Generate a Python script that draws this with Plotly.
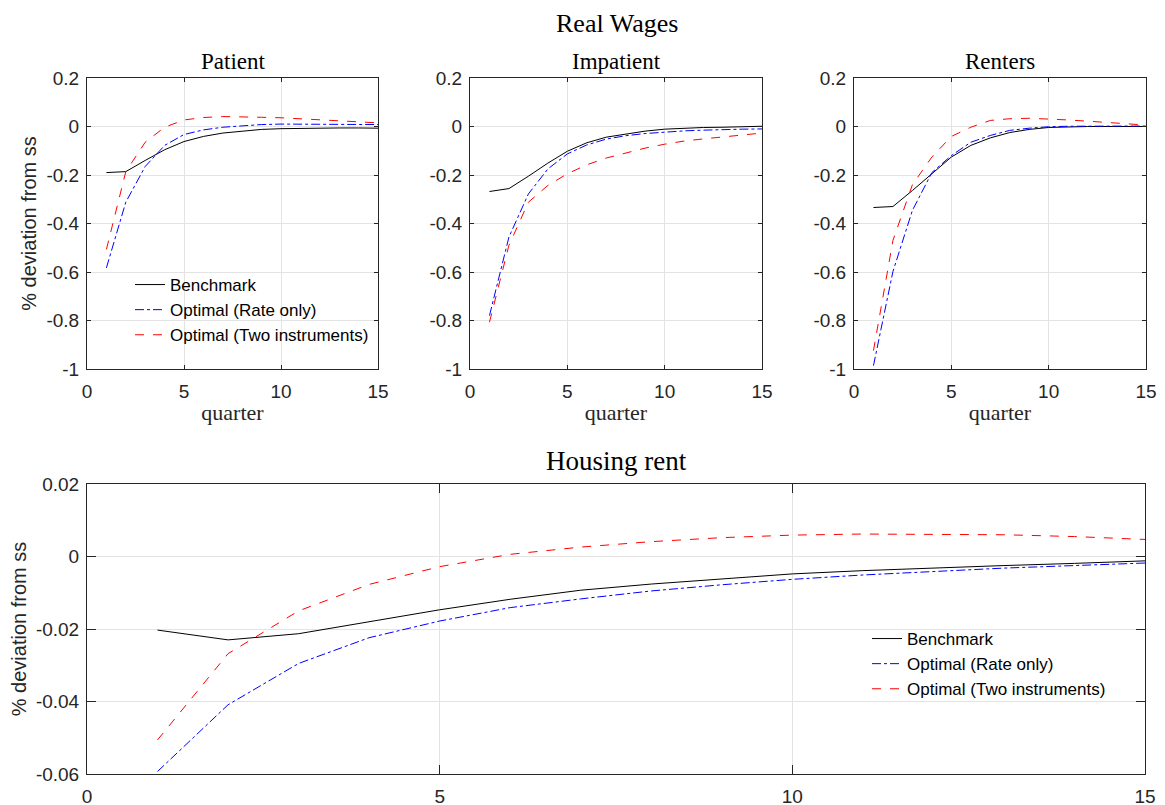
import plotly.graph_objects as go

quarters = list(range(1, 16))
series_names = ["Benchmark", "Optimal (Rate only)", "Optimal (Two instruments)"]

patient_bench = [-0.190, -0.186, -0.140, -0.096, -0.062, -0.041, -0.027, -0.018, -0.012, -0.009, -0.007, -0.006, -0.006, -0.006, -0.007]
patient_rate = [-0.583, -0.312, -0.165, -0.078, -0.033, -0.014, -0.003, 0.004, 0.008, 0.010, 0.010, 0.010, 0.010, 0.009, 0.008]
patient_two = [-0.507, -0.186, -0.065, -0.003, 0.027, 0.037, 0.041, 0.041, 0.038, 0.036, 0.032, 0.027, 0.023, 0.019, 0.015]

impatient_bench = [-0.268, -0.256, -0.205, -0.151, -0.102, -0.067, -0.044, -0.030, -0.019, -0.011, -0.007, -0.004, -0.003, -0.001, 0.001]
impatient_rate = [-0.780, -0.456, -0.278, -0.175, -0.113, -0.076, -0.052, -0.038, -0.029, -0.022, -0.018, -0.015, -0.012, -0.011, -0.010]
impatient_two = [-0.807, -0.490, -0.312, -0.243, -0.195, -0.158, -0.130, -0.109, -0.089, -0.073, -0.060, -0.051, -0.043, -0.034, -0.027]

renters_bench = [-0.334, -0.330, -0.264, -0.195, -0.126, -0.078, -0.047, -0.025, -0.012, -0.004, -0.001, 0.000, 0.000, 0.000, 0.000]
renters_rate = [-0.986, -0.598, -0.346, -0.190, -0.120, -0.065, -0.037, -0.016, -0.007, -0.001, 0.001, 0.002, 0.002, 0.002, 0.002]
renters_two = [-0.924, -0.470, -0.240, -0.126, -0.041, -0.003, 0.025, 0.032, 0.034, 0.032, 0.027, 0.022, 0.016, 0.011, 0.006]

rent_bench = [-0.0203, -0.0230, -0.0213, -0.0180, -0.0147, -0.0118, -0.0093, -0.0076, -0.0061, -0.0048, -0.0039, -0.0031, -0.0025, -0.0019, -0.0012]
rent_rate = [-0.0593, -0.0409, -0.0295, -0.0224, -0.0178, -0.0141, -0.0117, -0.0095, -0.0078, -0.0063, -0.0051, -0.0041, -0.0032, -0.0025, -0.0018]
rent_two = [-0.0506, -0.0268, -0.0150, -0.0077, -0.0028, 0.0006, 0.0026, 0.0041, 0.0052, 0.0059, 0.0062, 0.0062, 0.0060, 0.0055, 0.0047]

x_ticks = [0, 5, 10, 15]
x_tick_text = ["0", "5", "10", "15"]
top_y_ticks = [0.2, 0, -0.2, -0.4, -0.6, -0.8, -1]
top_y_text = ["0.2", "0", "-0.2", "-0.4", "-0.6", "-0.8", "-1"]
bot_y_ticks = [0.02, 0, -0.02, -0.04, -0.06]
bot_y_text = ["0.02", "0", "-0.02", "-0.04", "-0.06"]

panel_titles = ["Patient", "Impatient", "Renters"]
main_title = "Real Wages"
bottom_title = "Housing rent"
y_label = "% deviation from ss"
x_label = "quarter"

W, H = 1165, 805
OFF = 7  # page offset of the figure inside the browser window
styles = [dict(color="#000000", dash="solid"),
          dict(color="#0000ff", dash="dashdot"),
          dict(color="#ff0000", dash="dash")]

top_data = [
    (patient_bench, patient_rate, patient_two),
    (impatient_bench, impatient_rate, impatient_two),
    (renters_bench, renters_rate, renters_two),
]

fig = go.Figure()

top_x_px = [(86, 377), (469, 761), (853, 1145)]
top_y_px = (77, 368)
bot_x_px = (86, 1144)
bot_y_px = (483, 773)

def px_x(p):
    return (p - OFF) / W

def px_y(p):
    return 1 - (p - OFF) / H

def xdom(a, b):
    return [px_x(a), px_x(b)]

def ydom(top, bottom):
    return [px_y(bottom), px_y(top)]

sans = "Liberation Sans, Arial, sans-serif"
serif = "Liberation Serif, Times New Roman, serif"
ink = "#262626"

for i, data in enumerate(top_data):
    ax = "" if i == 0 else str(i + 1)
    for j, ys in enumerate(data):
        fig.add_trace(go.Scatter(
            x=quarters, y=ys, mode="lines", name=series_names[j],
            line=dict(width=1, **styles[j]),
            xaxis="x" + ax, yaxis="y" + ax,
            showlegend=(i == 0), legend="legend",
        ))

for j, ys in enumerate([rent_bench, rent_rate, rent_two]):
    fig.add_trace(go.Scatter(
        x=quarters, y=ys, mode="lines", name=series_names[j],
        line=dict(width=1, **styles[j]),
        xaxis="x4", yaxis="y4",
        showlegend=True, legend="legend2",
    ))

def axis_common(ticklen, standoff):
    return dict(
        showline=True, linecolor=ink, linewidth=1, mirror="allticks",
        ticks="inside", ticklen=ticklen, tickcolor=ink, tickwidth=1,
        showgrid=True, gridcolor="#e3e3e3", gridwidth=1, zeroline=False,
        tickfont=dict(family=sans, size=19, color=ink), automargin=False,
        ticklabelstandoff=standoff,
    )

layout = dict(
    width=W, height=H, margin=dict(l=0, r=0, t=0, b=0),
    paper_bgcolor="white", plot_bgcolor="white",
    font=dict(family=sans, color=ink),
)

for i in range(3):
    ax = "" if i == 0 else str(i + 1)
    xa = axis_common(4, 5)
    xa.update(domain=xdom(*top_x_px[i]), range=[0, 15], tickvals=x_ticks, ticktext=x_tick_text,
              anchor="y" + ax,
              title=dict(text=x_label, font=dict(family=serif, size=22, color=ink), standoff=3))
    ya = axis_common(4, 3)
    ya.update(domain=ydom(*top_y_px), range=[-1, 0.2], tickvals=top_y_ticks, ticktext=top_y_text,
              anchor="x" + ax)
    if i == 0:
        ya.update(title=dict(text=y_label, font=dict(family=sans, size=20, color=ink), standoff=4))
    layout["xaxis" + ax] = xa
    layout["yaxis" + ax] = ya

xa4 = axis_common(9, 5)
xa4.update(domain=xdom(*bot_x_px), range=[0, 15], tickvals=x_ticks, ticktext=x_tick_text, anchor="y4")
ya4 = axis_common(9, 3)
ya4.update(domain=ydom(*bot_y_px), range=[-0.06, 0.02], tickvals=bot_y_ticks, ticktext=bot_y_text,
           anchor="x4",
           title=dict(text=y_label, font=dict(family=sans, size=20, color=ink), standoff=6))
layout["xaxis4"] = xa4
layout["yaxis4"] = ya4

legend_common = dict(bgcolor="rgba(0,0,0,0)", borderwidth=0,
                     font=dict(family=sans, size=17, color="#000000"),
                     tracegroupgap=0, itemclick=False)
layout["legend"] = dict(x=px_x(129), y=px_y(309), xanchor="left", yanchor="middle", **legend_common)
layout["legend2"] = dict(x=px_x(866), y=px_y(663), xanchor="left", yanchor="middle", **legend_common)

annotations = [
    dict(text=main_title, x=px_x(0.5 * (86 + 1145)), y=1, xref="paper", yref="paper",
         showarrow=False, font=dict(family=serif, size=26, color="#000000"),
         xanchor="center", yanchor="top", borderpad=0, yshift=0),
    dict(text=bottom_title, x=px_x(0.5 * (86 + 1144)), y=px_y(460), xref="paper", yref="paper",
         showarrow=False, font=dict(family=serif, size=27, color="#000000"),
         xanchor="center", yanchor="middle"),
]
for i in range(3):
    a, b = top_x_px[i]
    annotations.append(dict(text=panel_titles[i], x=px_x(0.5 * (a + b)), y=px_y(61),
                            xref="paper", yref="paper", showarrow=False,
                            font=dict(family=serif, size=23, color="#000000"),
                            xanchor="center", yanchor="middle"))
layout["annotations"] = annotations

fig.update_layout(**layout)
fig.write_html("out.html")
